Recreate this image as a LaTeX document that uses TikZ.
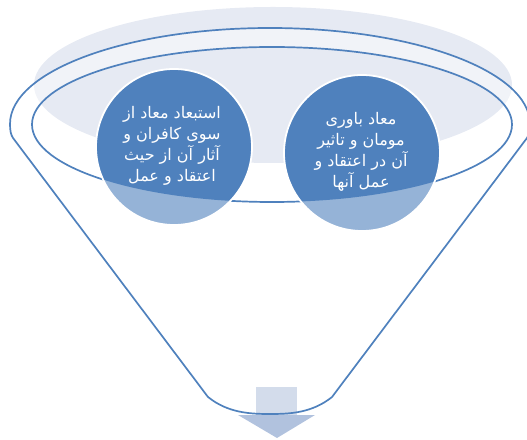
\documentclass[tikz,border=0pt]{standalone}
\usepackage{fontspec}
\TeXXeTstate=1
\newfontfamily\arabicfont[Script=Arabic]{DejaVu Sans}
\definecolor{bgell}{HTML}{E6EAF3}
\definecolor{fblue}{HTML}{4F81BD}
\definecolor{lblue}{HTML}{95B3D7}
\definecolor{stemc}{HTML}{D3DCEB}
\definecolor{headc}{HTML}{B1C2DE}
\tikzset{
  funnelline/.style={draw=fblue,line width=1.7pt},
  circtext/.style={text=white,align=center,inner sep=0pt,font=\arabicfont\fontsize{16}{21}\selectfont},
}
\begin{document}
\begin{tikzpicture}[x=1pt,y=1pt]
\useasboundingbox (0,0) rectangle (527,439);
% background ellipse
\fill[bgell] (273,354) ellipse [x radius=239,y radius=78];
% arrow
\fill[stemc] (256,24) rectangle (297,52);
\fill[headc] (238,24) -- (315,24) -- (277,1) -- cycle;
% ring fill
\fill[white,opacity=0.45,even odd rule] (270,315) ellipse [x radius=260,y radius=96]
  (272,314.5) ellipse [x radius=240,y radius=77.5];
% funnel outline
\draw[funnelline] (10,315) arc[start angle=180,end angle=0,x radius=260,y radius=96]
  .. controls (530,308) and (529,304) .. (527,301) -- (332,42)
  .. controls (312,26) and (290,25) .. (270,25)
  .. controls (250,25) and (228,26) .. (208,42) -- (13,301)
  .. controls (11,304) and (10,308) .. (10,315) -- cycle;
\draw[funnelline] (272,314.5) ellipse [x radius=240,y radius=77.5];
% circles
\coordinate (cl) at (174,292);
\coordinate (cr) at (362,286);
\fill[lblue] (cl) circle (78);
\fill[lblue] (cr) circle (78);
\begin{scope}
  \clip (272,314.5) ellipse [x radius=240,y radius=77.5];
  \fill[fblue] (cl) circle (78);
  \fill[fblue] (cr) circle (78);
\end{scope}
\draw[white,line width=1.8pt] (cl) circle (78);
\draw[white,line width=1.8pt] (cr) circle (78);
% texts
\node[circtext] (tl) at (172,293) {\beginR استبعاد معاد از\endR\\\beginR سوی کافران و\endR\\\beginR آثار آن از حیث\endR\\\beginR اعتقاد و عمل\endR};
\node[circtext] (tr) at (361,287) {\beginR معاد باوری\endR\\\beginR مومان و تاثیر\endR\\\beginR آن در اعتقاد و\endR\\\beginR عمل آنها\endR};
\end{tikzpicture}
\end{document}
